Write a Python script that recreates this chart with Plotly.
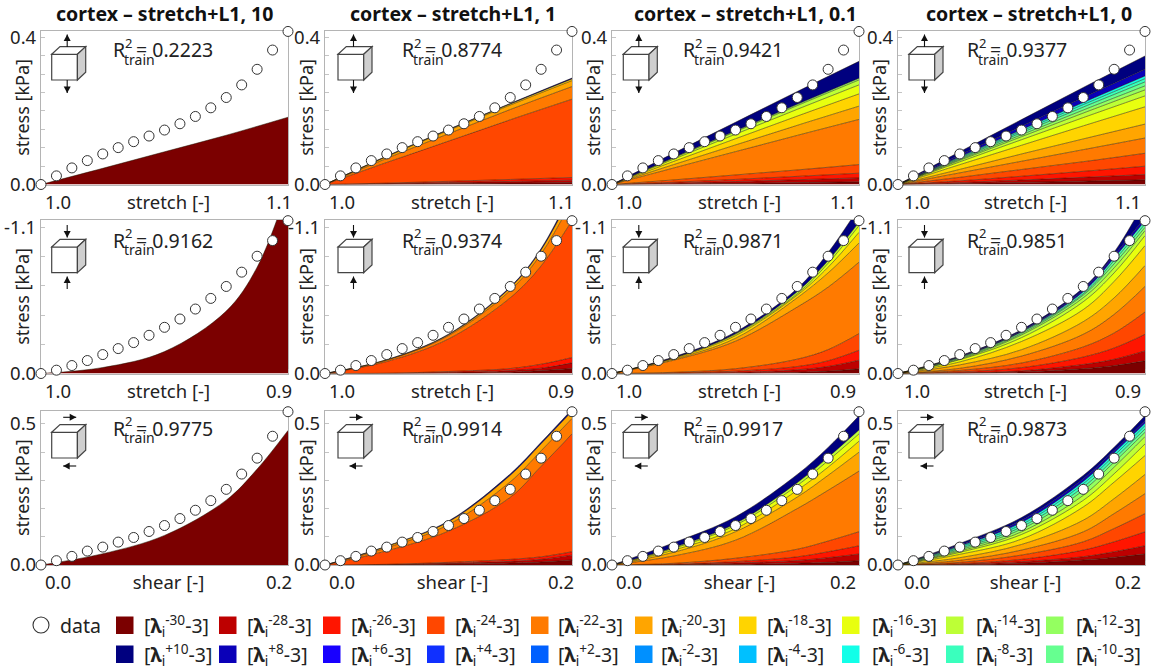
import plotly.graph_objects as go

# ---------- data ----------
EXPONENT_LABELS = {
    "-30": "#7b0000", "-28": "#bd0000", "-26": "#ff1500", "-24": "#ff4700", "-22": "#ff7a00",
    "-20": "#ffa500", "-18": "#ffd400", "-16": "#e8ff0f", "-14": "#bdff36", "-12": "#94ff60",
    "+10": "#00007f", "+8": "#0a00b8", "+6": "#1800ff", "+4": "#1030ff", "+2": "#0060ff",
    "-2": "#0090ff", "-4": "#00c0ff", "-6": "#12ffe8", "-8": "#3affbd", "-10": "#66ff90",
}

TITLES = ["cortex – stretch+L1, 10", "cortex – stretch+L1, 1", "cortex – stretch+L1, 0.1", "cortex – stretch+L1, 0"]
R2 = [["0.2223", "0.8774", "0.9421", "0.9377"],
      ["0.9162", "0.9374", "0.9871", "0.9851"],
      ["0.9775", "0.9914", "0.9917", "0.9873"]]

tension_x = [1.0, 1.00625, 1.0125, 1.01875, 1.025, 1.03125, 1.0375, 1.04375, 1.05,
             1.05625, 1.0625, 1.06875, 1.075, 1.08125, 1.0875, 1.09375, 1.1]
tension_data = [0, .0235, .0451, .0650, .0831, .1003, .1165, .1318, .1481,
                .1652, .1851, .2086, .2366, .2709, .3133, .3657, .4163]
compress_x = [1.0, .99375, .9875, .98125, .975, .96875, .9625, .95625, .95,
              .94375, .9375, .93125, .925, .91875, .9125, .90625, .9]
compress_data = [0, -.025, -.06, -.0975, -.1425, -.1875, -.2325, -.2875, -.3475,
                 -.41, -.485, -.565, -.655, -.7625, -.8825, -1.0, -1.15]
shear_x = [0, .0125, .025, .0375, .05, .0625, .075, .0875, .1,
           .1125, .125, .1375, .15, .1625, .175, .1875, .2]
shear_data = [0, .0153, .0306, .0494, .0635, .0812, .0976, .1188, .14,
              .1647, .1941, .2282, .2682, .3224, .3788, .4565, .5435]

tension_grid = [1.0, 1.025, 1.05, 1.075, 1.1]
compress_grid = [1.0, .975, .95, .925, .9125, .9]
shear_grid = [0, .05, .1, .15, .175, .2]

# upper boundary of each stacked term, kPa, read at the grid positions (after the zero start)
T1 = {"-30": [.044, .089, .134, .183]}
T2 = {"-30": [.0011, .0024, .0039, .0054], "-28": [.0023, .0053, .0084, .0117],
      "-26": [.0038, .0086, .0137, .019], "-24": [.060, .118, .176, .232],
      "-22": [.071, .138, .204, .2664], "-20": [.076, .147, .216, .2826],
      "-18": [.077, .149, .219, .2871], "+10": [.0775, .150, .2205, .2895]}
T3 = {"-30": [.0014, .0032, .0052, .0072], "-28": [.0036, .0081, .013, .018],
      "-26": [.0061, .0138, .0221, .0307], "-24": [.0125, .026, .0396, .0542],
      "-22": [.045, .0894, .1336, .177], "-20": [.0543, .1076, .1609, .2131],
      "-18": [.0629, .1245, .1861, .2465], "-16": [.0691, .1368, .2045, .2709],
      "-14": [.0725, .1436, .2147, .2844], "-12": [.0737, .146, .2182, .289],
      "+10": [.0854, .1692, .2529, .335]}
T4 = {"-30": [.0025, .0057, .0091, .0126], "-28": [.0054, .0122, .0195, .0271],
      "-26": [.0099, .0224, .0358, .0497], "-24": [.0195, .0408, .062, .0849],
      "-22": [.0316, .0632, .0948, .1264], "-20": [.0411, .083, .124, .1643],
      "-18": [.0539, .1067, .1595, .2113], "-16": [.0615, .1218, .182, .2411],
      "-14": [.0656, .13, .1943, .2574], "-12": [.0684, .1354, .2025, .2682],
      "-10": [.0711, .1409, .2106, .279], "-8": [.0734, .1454, .2174, .288],
      "-6": [.0753, .1491, .223, .2953], "+8": [.0799, .1582, .2365, .3133],
      "+10": [.0891, .1765, .2639, .3495]}

C1 = {"-30": [.045, .165, .47, .80, 1.4]}
C2 = {"-30": [.0002, .0025, .01, .022, .038], "-28": [.001, .0075, .0225, .04, .08],
      "-26": [.002, .015, .0375, .07, .12], "-24": [.09, .26, .57, .81, 1.15],
      "-22": [.10, .285, .625, .9, 1.3], "-20": [.103, .292, .645, .93, 1.36],
      "+10": [.104, .296, .652, .94, 1.38]}
C3 = {"-30": [.0003, .0025, .0095, .018, .035], "-28": [.001, .008, .028, .053, .1],
      "-26": [.0026, .0175, .0525, .096, .175], "-24": [.009, .036, .108, .18, .3],
      "-22": [.1, .243, .5, .65, .8375], "-20": [.108, .265, .57, .757, .9825],
      "-18": [.115, .285, .59, .8, 1.0625], "-16": [.118, .295, .6, .83, 1.1125],
      "-14": [.119, .3, .615, .85, 1.1375], "+10": [.125, .3125, .64, .91, 1.25]}
C4 = {"-30": [.003, .011, .036, .059, .095], "-28": [.005, .02, .068, .107, .17],
      "-26": [.012, .044, .124, .192, .295], "-24": [.023, .079, .2, .305, .4625],
      "-22": [.039, .131, .295, .445, .655], "-20": [.065, .179, .39, .569, .8125],
      "-18": [.087, .241, .481, .693, .9625], "-16": [.104, .27, .54, .757, 1.0375],
      "-14": [.108, .29, .57, .795, 1.075], "-12": [.115, .3, .59, .825, 1.1],
      "-10": [.12, .31, .6, .85, 1.125], "-8": [.124, .315, .615, .87, 1.15],
      "+8": [.128, .32, .63, .89, 1.175], "+10": [.1325, .33, .645, .9125, 1.3]}

S1 = {"-30": [.04, .105, .23, .34, .477]}
S2 = {"-30": [.0006, .0035, .007, .0106, .018], "-28": [.0012, .006, .013, .02, .035],
      "-26": [.0024, .0094, .02, .029, .047], "-24": [.05, .12, .24, .35, .465],
      "-22": [.061, .143, .295, .405, .52], "-20": [.066, .153, .318, .43, .545],
      "+10": [.067, .156, .323, .435, .552]}
S3 = {"-30": [.0006, .0024, .006, .0094, .0153], "-28": [.0012, .007, .016, .026, .039],
      "-26": [.0024, .012, .029, .047, .068], "-24": [.006, .024, .056, .085, .118],
      "-22": [.032, .088, .2, .265, .333], "-20": [.045, .118, .241, .318, .4],
      "-18": [.053, .129, .265, .347, .439], "-16": [.059, .141, .282, .37, .465],
      "-14": [.062, .147, .292, .382, .479], "+10": [.079, .171, .321, .417, .529]}
S4 = {"-30": [.0012, .0059, .0176, .027, .0388], "-28": [.0024, .0118, .0294, .047, .0682],
      "-26": [.0047, .02, .0529, .0823, .1176], "-24": [.0094, .0353, .0823, .1294, .1823],
      "-22": [.0165, .0529, .1176, .1823, .2528], "-20": [.0259, .0729, .1588, .2352, .321],
      "-18": [.0376, .0917, .2058, .294, .3881], "-16": [.0447, .1082, .2293, .3234, .4292],
      "-14": [.0494, .1176, .247, .3469, .4551], "-12": [.0541, .127, .2646, .3646, .4704],
      "-10": [.0588, .1352, .2764, .3763, .4822], "-8": [.0635, .1435, .2881, .3881, .4939],
      "-6": [.067, .1505, .2964, .3975, .5022], "+8": [.0706, .1588, .3058, .4057, .5116],
      "+10": [.0764, .1682, .3175, .4175, .5292]}

# ---------- layout constants ----------
W, H = 1151, 672
FONT = "Noto Sans"
INK = "#222222"
PANEL_L = [41, 325, 612, 898]
PANEL_W = 247
PANEL_T = [31, 220, 411]
PANEL_H = [153.5, 153.5, 154]
TITLE_X = [165, 453, 745, 1029]
R2_X = [112, 401, 682, 966]
R2_Y = [50, 240, 428]
CUBE_DX = [10.7, 13, 11.3, 11]
XLAB_OFF = [[17, 9], [17, 11], [17, 16], [19, 17]]

ROWS = [
    dict(xr=[1.0, 1.1], yr=[0, .4175], grid=tension_grid, dx=tension_x, dy=tension_data, sign=1,
         xt=[1.0, 1.02, 1.04, 1.06, 1.08, 1.1], yt=[0, .05, .1, .15, .2, .25, .3, .35, .4],
         ylab={0: "0.0", .4: "0.4"}, xname="stretch [-]", xl=["1.0", "1.1"], panels=[T1, T2, T3, T4]),
    dict(xr=[1.0, .9], yr=[0, -1.155], grid=compress_grid, dx=compress_x, dy=compress_data, sign=-1,
         xt=[1.0, .98, .96, .94, .92, .9], yt=[0, -.22, -.44, -.66, -.88, -1.1],
         ylab={0: "0.0", -1.1: "-1.1"}, xname="stretch [-]", xl=["1.0", "0.9"], panels=[C1, C2, C3, C4]),
    dict(xr=[0, .2], yr=[0, .546], grid=shear_grid, dx=shear_x, dy=shear_data, sign=1,
         xt=[0, .04, .08, .12, .16, .2], yt=[0, .1, .2, .3, .4, .5],
         ylab={0: "0.0", .5: "0.5"}, xname="shear [-]", xl=["0.0", "0.2"], panels=[S1, S2, S3, S4]),
]

LEG_ROW1 = ["-30", "-28", "-26", "-24", "-22", "-20", "-18", "-16", "-14", "-12"]
LEG_ROW2 = ["+10", "+8", "+6", "+4", "+2", "-2", "-4", "-6", "-8", "-10"]
LEG_SWATCH_X = [116, 219, 323, 427, 531, 635, 739, 842, 946, 1046]
LEG_TEXT_X = [143, 246, 350, 454, 557, 660, 766, 871, 975, 1075]
LEG_Y = [625, 654]


def px(x):
    return x / W


def py(y):
    return 1 - y / H


fig = go.Figure()
shapes, notes = [], []


def text(x, y, s, size=19, anchor="left", bold=False, angle=0, vanchor="middle"):
    notes.append(dict(x=px(x), y=py(y), xref="paper", yref="paper", text=f"<b>{s}</b>" if bold else s,
                      showarrow=False, xanchor=anchor, yanchor=vanchor, textangle=angle, borderpad=0,
                      font=dict(family=FONT, size=size, color="#111111" if bold else INK)))


def poly(pts, fill=None, line=None, w=1.2):
    d = "M " + " L ".join(f"{px(a):.5f},{py(b):.5f}" for a, b in pts) + (" Z" if fill else "")
    shapes.append(dict(type="path", path=d, xref="paper", yref="paper", fillcolor=fill or "rgba(0,0,0,0)",
                       line=dict(color=line or "rgba(0,0,0,0)", width=w if line else 0), layer="above"))


def arrow(x0, y0, x1, y1):
    poly([(x0, y0), (x1, y1)], line="#111111", w=1.1)
    if x0 == x1:
        s = 1 if y1 > y0 else -1
        poly([(x1, y1), (x1 - 3.5, y1 - 6.5 * s), (x1 + 3.5, y1 - 6.5 * s)], fill="#111111")
    else:
        s = 1 if x1 > x0 else -1
        poly([(x1, y1), (x1 - 6.5 * s, y1 - 3.5), (x1 - 6.5 * s, y1 + 3.5)], fill="#111111")


def cube(L, T, r, c):
    x0 = L + CUBE_DX[c]
    y0 = T + [23.3, 27, 21.3][r]
    x1, y1 = x0 + 25.7, y0 + 25.7
    dx, dy = 8.3, -7.7
    e = "#444444"
    poly([(x0, y0), (x1, y0), (x1, y1), (x0, y1)], fill="white", line=e)
    poly([(x0, y0), (x0 + dx, y0 + dy), (x1 + dx, y0 + dy), (x1, y0)], fill="white", line=e)
    poly([(x1, y0), (x1 + dx, y0 + dy), (x1 + dx, y1 + dy), (x1, y1)], fill="#cfcfcf", line=e)
    m = x0 + 15.5
    if r == 0:
        arrow(m, T + 16, m, T + 3.5)
        arrow(m, y1, m, T + 62)
    elif r == 1:
        arrow(m, T + 5, m, T + 17.5)
        arrow(m, T + 69, m, T + 56.5)
    else:
        arrow(m - 4, T + 6.3, m + 9, T + 6.3)
        arrow(m + 9, T + 55, m - 4, T + 55)


axis_i = 0
for r, row in enumerate(ROWS):
    for c, panel in enumerate(row["panels"]):
        axis_i += 1
        xa, ya = f"x{axis_i}", f"y{axis_i}"
        L, T, Hp = PANEL_L[c], PANEL_T[r], PANEL_H[r]
        span = row["xr"][1] - row["xr"][0]
        off0, off1 = XLAB_OFF[c]
        lab_x = [row["xr"][0] + span * off0 / PANEL_W, row["xr"][0] + span / 2 + span * 4 / PANEL_W,
                 row["xr"][1] - span * off1 / PANEL_W]
        common = dict(showgrid=False, zeroline=False, showline=True, linecolor="#b4b4b4", linewidth=1.2,
                      mirror=True, fixedrange=True, automargin=False, layer="below traces",
                      tickfont=dict(family=FONT, size=18.5, color=INK))
        fig.update_layout({
            f"xaxis{axis_i}": dict(domain=[px(L), px(L + PANEL_W)], range=row["xr"], anchor=ya,
                                   tickmode="array", tickvals=lab_x, ticktext=[row["xl"][0], row["xname"], row["xl"][1]],
                                   ticks="", ticklen=0, ticklabelstandoff=1,
                                   minor=dict(tickmode="array", tickvals=row["xt"], ticks="inside", ticklen=4,
                                              tickcolor="#c4c4c4", tickwidth=1), **common),
            f"yaxis{axis_i}": dict(domain=[py(T + Hp), py(T)], range=row["yr"], anchor=xa,
                                   tickmode="array", tickvals=row["yt"],
                                   ticktext=[row["ylab"].get(v, "") for v in row["yt"]],
                                   ticks="inside", ticklen=4, tickcolor="#c4c4c4", tickwidth=1, **common),
        })
        prev = False
        for key, vals in panel.items():
            fig.add_trace(go.Scatter(
                x=row["grid"], y=[0] + [row["sign"] * v for v in vals], xaxis=xa, yaxis=ya, mode="lines",
                name=f"λ {key}", showlegend=False, fill="tonexty" if prev else "tozeroy",
                fillcolor=EXPONENT_LABELS[key],
                line=dict(color="rgba(30,20,0,0.7)", width=0.7, shape="spline", smoothing=1.0)))
            prev = True
        fig.add_trace(go.Scatter(x=row["dx"], y=row["dy"], xaxis=xa, yaxis=ya, mode="markers", name="data",
                                 showlegend=False, cliponaxis=False,
                                 marker=dict(size=10, color="white", line=dict(color="#333333", width=1))))
        cube(L, T, r, c)
        text(L - 19, T + Hp / 2, "stress [kPa]", size=18, anchor="center", angle=-90)
        rx, ry = R2_X[c], R2_Y[r]
        text(rx, ry, "R", size=19.5)
        text(rx + 12, ry - 7, "2", size=13)
        text(rx + 11, ry + 9, "train", size=14)
        text(rx + 23, ry, "= " + R2[r][c], size=19.5)

for c, t in enumerate(TITLES):
    text(TITLE_X[c], 13, t, size=19.5, anchor="center", bold=True)

# legend
shapes.append(dict(type="circle", xref="paper", yref="paper", x0=px(33), x1=px(49), y0=py(LEG_Y[0] + 8), y1=py(LEG_Y[0] - 8),
                   fillcolor="white", line=dict(color="#333333", width=1.1)))
text(59, LEG_Y[0], "data", size=19.5)
for row_i, keys in enumerate([LEG_ROW1, LEG_ROW2]):
    for j, k in enumerate(keys):
        y = LEG_Y[row_i]
        shapes.append(dict(type="rect", xref="paper", yref="paper", x0=px(LEG_SWATCH_X[j]), x1=px(LEG_SWATCH_X[j] + 17.5),
                           y0=py(y + 9), y1=py(y - 8.5), fillcolor=EXPONENT_LABELS[k], line=dict(width=0)))
        text(LEG_TEXT_X[j], y, f"[<b>λ</b><sub>i</sub><sup>{k}</sup>-3]", size=19.5)

fig.update_layout(width=W, height=H, margin=dict(l=0, r=0, t=0, b=0), autosize=False, showlegend=False,
                  paper_bgcolor="white", plot_bgcolor="white", shapes=shapes, annotations=notes,
                  font=dict(family=FONT))

fig.write_html("out.html", config={"displayModeBar": False},
               post_script="document.body.style.margin='0';document.body.style.overflow='hidden';")
